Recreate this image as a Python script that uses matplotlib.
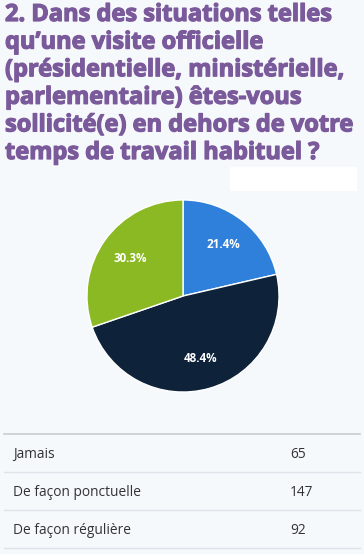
import matplotlib.pyplot as plt
import matplotlib.patheffects as pe

# data
categories = ["Jamais", "De façon ponctuelle", "De façon régulière"]
counts = [65, 147, 92]
colors = ["#2F80DA", "#0E2239", "#8BB923"]
title = ("2. Dans des situations telles\nqu\u2019une visite officielle\n"
         "(présidentielle, ministérielle,\nparlementaire) êtes-vous\n"
         "sollicité(e) en dehors de votre\ntemps de travail habituel ?")

W, H = 364, 554
bg = "#F5F9FC"
fig = plt.figure(figsize=(W / 100, H / 100), dpi=100, facecolor=bg)

# overlay in pixel coords for title / table
ov = fig.add_axes([0, 0, 1, 1])
ov.set_xlim(0, W)
ov.set_ylim(H, 0)
ov.axis("off")
ov.patch.set_alpha(0)

tcol = "#7A5A9A"
ov.text(5, 3, title, fontsize=17, fontweight="bold", family="Open Sans",
        color=tcol, va="top", ha="left", linespacing=1.2,
        path_effects=[pe.withStroke(linewidth=0.9, foreground=tcol)])
ov.add_patch(plt.Rectangle((230, 167), 126, 23, color="white", zorder=0))

# pie
cx, cy, r = 183, 296, 97
pax = fig.add_axes([(cx - r) / W, (H - cy - r) / H, 2 * r / W, 2 * r / H])
wedges, _, autotexts = pax.pie(counts, colors=colors, startangle=90, counterclock=False,
                               autopct="%.1f%%", pctdistance=0.68,
                               wedgeprops=dict(edgecolor="white", linewidth=1))
for t in autotexts:
    t.set_color("white")
    t.set_fontweight("bold")
    t.set_fontsize(8.4)
    t.set_family("Open Sans")
pax.set_aspect("equal")
pax.set_xlim(-1.01, 1.01)
pax.set_ylim(-1.01, 1.01)

# table
y0, rh = 434, 38
ov.plot([4, 360], [y0, y0], color="#C9CDD1", lw=1.2)
for i, (cat, n) in enumerate(zip(categories, counts)):
    yc = y0 + rh * i + rh / 2 + 1.5
    ov.text(13, yc, cat, fontsize=9.9, family="Open Sans", color="#333333", va="center")
    ov.text(290, yc, str(n), fontsize=9.9, family="Open Sans", color="#333333", va="center")
    ov.plot([4, 360], [y0 + rh * (i + 1)] * 2, color="#DDE3E8", lw=1)

fig.savefig("out.png", dpi=100, facecolor=bg)
